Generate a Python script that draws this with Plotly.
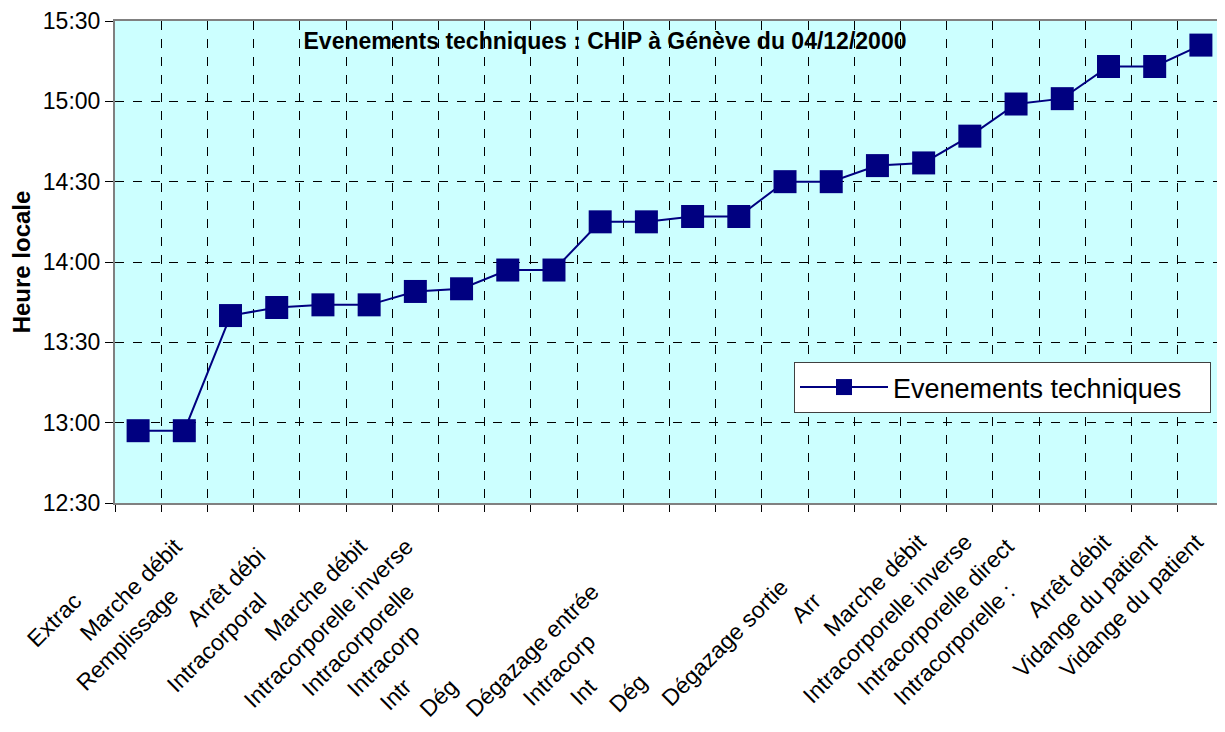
import plotly.graph_objects as go

# ---- data ----
event_labels = [
    "Extrac", "Marche débit", "Remplissage", "Arrêt débi", "Intracorporal",
    "Marche débit", "Intracorporelle inverse", "Intracorporelle", "Intracorp", "Intr",
    "Dég", "Dégazage entrée", "Intracorp", "Int", "Dég",
    "Dégazage sortie", "Arr", "Marche débit", "Intracorporelle inverse", "Intracorporelle direct",
    "Intracorporelle :", "Arrêt débit", "Vidange du patient", "Vidange du patient",
]
event_times = [
    "12:57", "12:57", "13:40", "13:43", "13:44",
    "13:44", "13:49", "13:50", "13:57", "13:57",
    "14:15", "14:15", "14:17", "14:17", "14:30",
    "14:30", "14:36", "14:37", "14:47", "14:59",
    "15:01", "15:13", "15:13", "15:21",
]
day = "2000-12-04"
series_name = "Evenements techniques"
title_text = "Evenements techniques : CHIP à Génève du 04/12/2000"
y_title = "Heure locale"

# label styling only: trailing non-breaking spaces to stagger the rotated labels
label_pad = [14, 2, 13, 4, 14, 2, 2, 12, 21, 33, 33, 12, 23, 33, 32, 11, 14, 1, 1, 2, 12, 1, 1, 1]

x_idx = list(range(len(event_labels)))
y_vals = [f"{day} {t}" for t in event_times]
tick_text = [lab + "\u00a0" * p for lab, p in zip(event_labels, label_pad)]

FONT = "Liberation Sans, Arial, sans-serif"
NAVY = "#000080"
W, H = 1217, 724  # page body adds an 8px offset

fig = go.Figure()
fig.add_trace(go.Scatter(
    x=x_idx, y=y_vals, name=series_name, mode="lines+markers",
    line=dict(color=NAVY, width=2),
    marker=dict(symbol="square", size=23, color=NAVY),
))

fig.update_layout(
    width=W, height=H,
    margin=dict(l=107, r=1, t=13, b=229, autoexpand=False),
    paper_bgcolor="white", plot_bgcolor="#CCFFFF",
    font=dict(family=FONT, color="black", size=22),
    title=dict(text=f"<b>{title_text}</b>", x=597 / W, xanchor="center",
               y=1 - 33 / H, yanchor="middle", font=dict(size=23, family=FONT)),
    showlegend=True,
    legend=dict(x=(794 - 115) / 1109, y=(503 - 362) / 482, xanchor="left", yanchor="top",
                bgcolor="white", bordercolor="#404040", borderwidth=1,
                orientation="h", entrywidth=312, itemwidth=88,
                font=dict(size=27, family=FONT)),
)

fig.update_xaxes(
    range=[-0.5, len(event_labels) - 0.5],
    tickmode="array", tickvals=x_idx, ticktext=tick_text,
    tickangle=-45, ticks="", showgrid=False, zeroline=False,
    ticklabelstandoff=10,
    tickfont=dict(size=23, family=FONT),
    showline=True, linecolor="#808080", linewidth=2, mirror=True,
    minor=dict(tick0=-0.5, dtick=1, ticks="outside", ticklen=7, tickcolor="black",
               showgrid=True, gridcolor="black", griddash="dash", gridwidth=1),
)
fig.update_yaxes(
    type="date",
    range=[f"{day} 12:30", f"{day} 15:30"],
    dtick=1800000, tick0=f"{day} 12:30", tickformat="%H:%M",
    ticks="outside", ticklen=8, tickcolor="black",
    ticklabeloverflow="allow",
    showgrid=True, gridcolor="black", griddash="dash", gridwidth=1,
    tickfont=dict(size=23, family=FONT),
    showline=True, linecolor="#808080", linewidth=2, mirror=True,
    title=dict(text=f"<b>{y_title}</b>", font=dict(size=24, family=FONT), standoff=6),
)

fig.write_html("out.html")
